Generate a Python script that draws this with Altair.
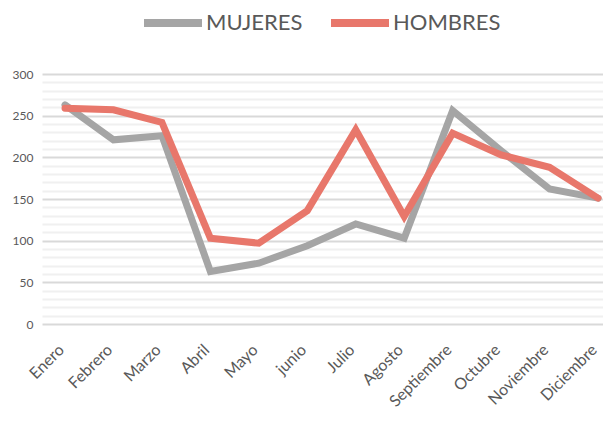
import altair as alt
import pandas as pd

months = ["Enero", "Febrero", "Marzo", "Abril", "Mayo", "junio", "Julio",
          "Agosto", "Septiembre", "Octubre", "Noviembre", "Diciembre"]
mujeres = [263, 221, 226, 63, 73, 94, 120, 103, 256, 208, 162, 151]
hombres = [259, 257, 242, 103, 97, 136, 233, 129, 229, 203, 188, 151]
series = ["MUJERES", "HOMBRES"]
colors = ["#A5A5A5", "#E8776B"]
y_ticks = list(range(0, 301, 10))

rows = []
for s, vals in zip(series, [mujeres, hombres]):
    for i, (m, v) in enumerate(zip(months, vals)):
        rows.append({"idx": i, "mes": m, "valor": v, "serie": s})
df = pd.DataFrame(rows)

FONT = "Lato"
month_js = "[" + ",".join("'%s'" % m for m in months) + "]"

base = alt.Chart(df).mark_line(strokeWidth=7, strokeCap="round", strokeJoin="miter").encode(
    x=alt.X("idx:Q",
            scale=alt.Scale(domain=[-0.475, 11.103], nice=False, zero=False),
            axis=alt.Axis(title=None, values=list(range(12)), labelExpr=month_js + "[datum.value]",
                          labelAngle=-45, labelAlign="right", labelBaseline="middle",
                          labelOverlap=False, labelBound=False, labelOffset=-4,
                          labelFontSize=16, labelColor="#595959",
                          labelFont=FONT, ticks=False, domain=False, grid=False, labelPadding=23)),
    y=alt.Y("valor:Q", scale=alt.Scale(domain=[0, 300], nice=False),
            axis=alt.Axis(title=None, values=y_ticks, ticks=False, domain=False,
                          labelExpr="datum.value % 50 === 0 ? datum.label : ''",
                          labelFontSize=12, labelColor="#595959", labelFont=FONT, labelPadding=9,
                          gridColor={"condition": {"test": "datum.value % 50 === 0", "value": "#D9D9D9"},
                                     "value": "#F0F0F0"},
                          gridWidth=2)),
    color=alt.Color("serie:N", scale=alt.Scale(domain=series, range=colors),
                    legend=alt.Legend(title=None, orient="none", direction="horizontal",
                                      legendX=98, legendY=-84,
                                      symbolType="stroke", symbolSize=3364, symbolStrokeWidth=8,
                                      labelFontSize=22, labelColor="#595959", labelFont=FONT,
                                      labelOffset=0, columnPadding=12)),
)

chart = alt.layer(
    base.transform_filter(alt.datum.serie == "MUJERES"),
    base.transform_filter(alt.datum.serie == "HOMBRES"),
).properties(
    width=561, height=250,
    autosize=alt.AutoSizeParams(type="none"),
    padding={"left": 34, "top": 66, "right": 0, "bottom": 91},
).configure_view(stroke=None)

chart.save("out.html", embed_options={"renderer": "svg", "actions": False})
